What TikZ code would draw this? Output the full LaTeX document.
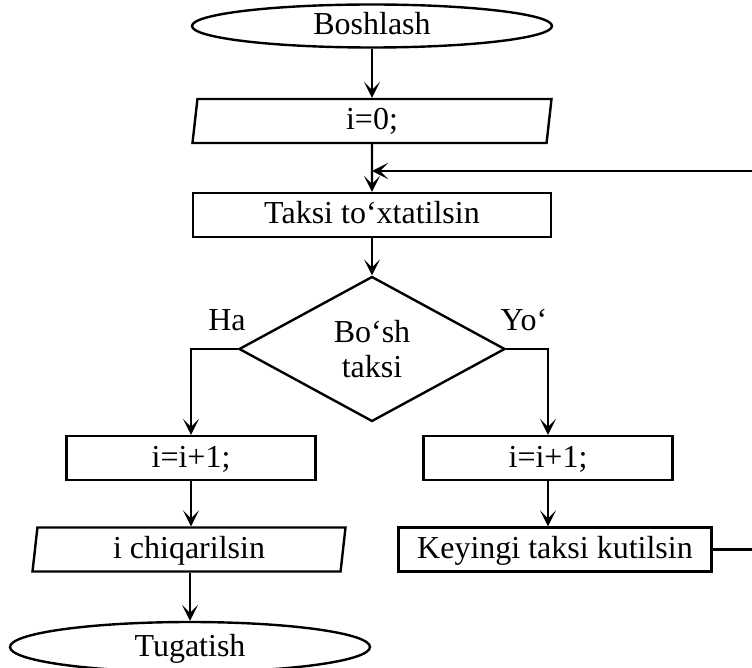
\documentclass[tikz,border=0pt]{standalone}
\usepackage{fontspec}
\setmainfont{Liberation Serif}
\usetikzlibrary{shapes.geometric,arrows.meta}

\tikzset{
    terminal/.style={draw, ellipse, inner sep=0pt, minimum width=360pt, text height=23pt, text depth=5pt},
    io/.style={draw, trapezium, trapezium left angle=80, trapezium right angle=100, trapezium stretches body, inner sep=0pt, minimum height=44pt, text height=23pt, text depth=5pt},
    process/.style={draw, rectangle, inner sep=0pt, minimum height=44pt, text height=23pt, text depth=5pt},
    decision/.style={draw, diamond, inner sep=0pt, align=center, minimum width=266pt, minimum height=145pt},
    conn/.style={-{Stealth[length=16pt,width=16pt,inset=8pt]}}
}

\begin{document}
\begin{tikzpicture}[x=1pt, y=-1pt, line width=2.4pt, every node/.style={font=\fontsize{32}{35}\selectfont}]
    \useasboundingbox (0,0) rectangle (752,668); % page
    \node[terminal, minimum height=43pt] (start) at (372,26) {Boshlash}; % start
    \node[io, minimum width=359pt] (init) at (372,121) {i=0;}; % i=0
    \node[process, minimum width=358pt] (stoptaxi) at (372,215) {Taksi to‘xtatilsin}; % stop taxi
    \node[decision] (empty) at (372,349) {Bo‘sh\\taksi}; % empty?
    \node (yes) at (227,320) {Ha}; % yes label
    \node (no) at (524,320) {Yo‘}; % no label
    \node[process, minimum width=249pt] (incyes) at (191,458) {i=i+1;}; % left counter
    \node[io, minimum width=313pt] (print) at (189,549.5) {i chiqarilsin}; % output
    \node[terminal, minimum height=50pt] (finish) at (190,647) {Tugatish}; % end
    \node[process, minimum width=249pt] (incno) at (548,458) {i=i+1;}; % right counter
    \node[process, minimum width=313pt] (wait) at (555,549.5) {Keyingi taksi kutilsin}; % wait
    \coordinate (backin) at (752,171); % loop comes in
    \coordinate (backout) at (752,549.5); % loop goes out
    \draw[conn] (start) -- (init); % start -> i=0
    \draw[conn] (init) -- (stoptaxi); % i=0 -> stop taxi
    \draw[conn] (backin) -- (backin -| stoptaxi.north); % loop back
    \draw[conn] (stoptaxi) -- (empty); % stop taxi -> empty?
    \draw[conn] (empty.west) -| (incyes.north); % yes branch
    \draw[conn] (empty.east) -| (incno.north); % no branch
    \draw[conn] (incyes) -- (incyes.south |- print.north); % left counter -> output
    \draw[conn] (print.south -| finish.north) -- (finish.north); % output -> end
    \draw[conn] (incno) -- (incno.south |- wait.north); % right counter -> wait
    \draw (wait.east) -- (backout); % wait -> loop
\end{tikzpicture}
\end{document}
